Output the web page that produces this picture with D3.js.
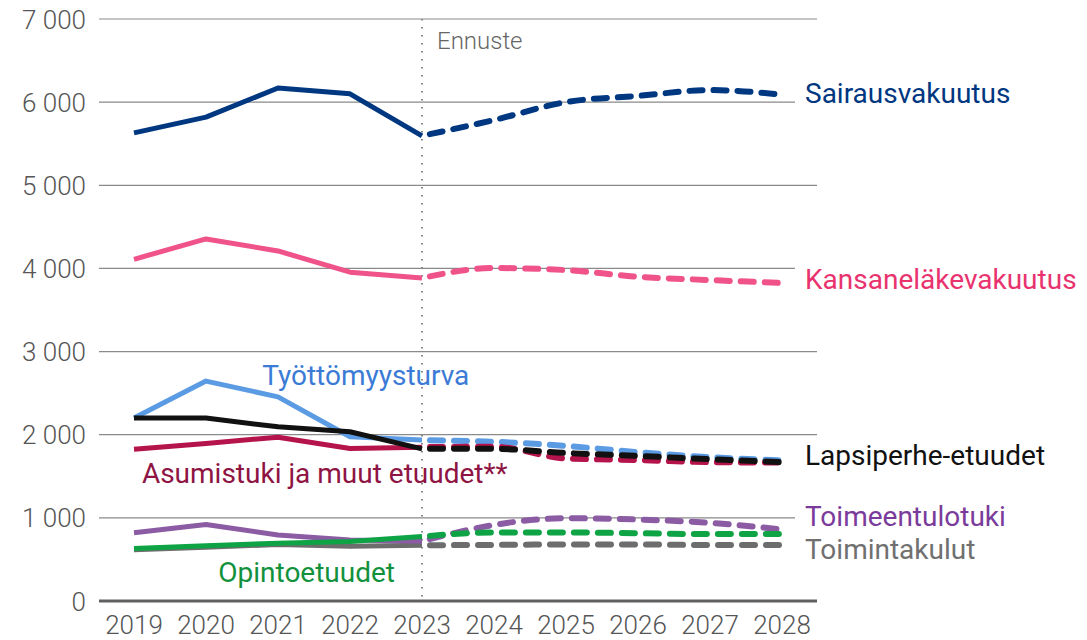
<!DOCTYPE html>
<html>
<head>
<meta charset="utf-8">
<script src="https://cdn.jsdelivr.net/npm/d3@7"></script>
<style>
  body { margin: 0; background: #fff; }
  svg { font-family: Roboto, "Noto Sans", sans-serif; }
</style>
</head>
<body>
<div id="chart"></div>
<script>
const width = 1087,
      height = 640,
      margin = ({ top: 19, right: 271, bottom: 39, left: 99 });

// data (millions of euros)
const years = [2019, 2020, 2021, 2022, 2023, 2024, 2025, 2026, 2027, 2028];
const histYears = [2019, 2020, 2021, 2022, 2023];
const foreYears = [2023, 2024, 2025, 2026, 2027, 2028];
const yTicks = [0, 1000, 2000, 3000, 4000, 5000, 6000, 7000];

const sairausHist = [5630, 5820, 6170, 6100, 5595];
const sairausFore = [5595, 5785, 6000, 6075, 6145, 6090];
const kansanHist = [4110, 4355, 4210, 3955, 3885];
const kansanFore = [3885, 4005, 3980, 3900, 3860, 3825];
const tyottHist = [2200, 2645, 2455, 1975, 1935];
const tyottFore = [1935, 1915, 1865, 1790, 1730, 1690];
const lapsiHist = [2200, 2200, 2095, 2035, 1830];
const lapsiFore = [1830, 1830, 1780, 1745, 1705, 1670];
const asumHist = [1825, 1895, 1970, 1835, 1850];
const asumFore = [1850, 1855, 1715, 1695, 1670, 1665];
const toimeenHist = [820, 920, 795, 735, 720];
const toimeenFore = [720, 915, 995, 980, 940, 860];
const opintoHist = [630, 665, 695, 715, 775];
const opintoFore = [775, 825, 825, 815, 805, 805];
const toimintaHist = [615, 645, 680, 660, 670];
const toimintaFore = [670, 675, 680, 680, 673, 673];

const series = [
  { name: "Työttömyysturva", hist: tyottHist, fore: tyottFore, color: "#5b9be3" },
  { name: "Asumistuki ja muut etuudet**", hist: asumHist, fore: asumFore, color: "#b5134b" },
  { name: "Lapsiperhe-etuudet", hist: lapsiHist, fore: lapsiFore, color: "#111111" },
  { name: "Toimintakulut", hist: toimintaHist, fore: toimintaFore, color: "#6d6d6d" },
  { name: "Toimeentulotuki", hist: toimeenHist, fore: toimeenFore, color: "#8b5ca3" },
  { name: "Opintoetuudet", hist: opintoHist, fore: opintoFore, color: "#0ea345" },
  { name: "Kansaneläkevakuutus", hist: kansanHist, fore: kansanFore, color: "#f0528a" },
  { name: "Sairausvakuutus", hist: sairausHist, fore: sairausFore, color: "#003781" }
];

// direct labels: x is a year (or the right margin), v is the baseline value
const labels = [
  { text: "Sairausvakuutus", x: "right", v: 5990, color: "#003781", bg: true },
  { text: "Kansaneläkevakuutus", x: "right", v: 3753, color: "#e8336f", bg: true },
  { text: "Lapsiperhe-etuudet", x: "right", v: 1636, color: "#111111", bg: false },
  { text: "Toimeentulotuki", x: "right", v: 900, color: "#7a3b9b", bg: true },
  { text: "Toimintakulut", x: "right", v: 505, color: "#707070", bg: false },
  { text: "Työttömyysturva", x: 2020.78, v: 2598, color: "#3b7bd6", bg: false },
  { text: "Asumistuki ja muut etuudet**", x: 2019.11, v: 1419, color: "#8e1443", bg: false },
  { text: "Opintoetuudet", x: 2020.17, v: 232, color: "#12913c", bg: false }
];

const svg = d3.select("#chart")
  .append("svg")
  .attr("width", width)
  .attr("height", height);

let x = d3.scaleLinear()
  .domain([2019, 2028])
  .range([134, 782]);

let y = d3.scaleLinear()
  .domain([0, 7000])
  .range([height - margin.bottom, margin.top]);

const plotRight = width - margin.right + 1;

// gridlines
svg.append("g")
  .selectAll("line")
  .data(yTicks.filter(d => d > 0))
  .join("line")
  .attr("x1", margin.left)
  .attr("x2", plotRight)
  .attr("y1", d => y(d))
  .attr("y2", d => y(d))
  .attr("stroke", "#8a8a8a")
  .attr("stroke-width", 1.2);

// y tick labels
svg.append("g")
  .selectAll("text")
  .data(yTicks)
  .join("text")
  .attr("x", 86)
  .attr("y", d => y(d) + 9.5)
  .attr("text-anchor", "end")
  .attr("fill", "#555")
  .style("font-size", "26px")
  .style("font-weight", 300)
  .text(d => d3.format(",")(d).replace(/,/g, " "));

// x tick labels
svg.append("g")
  .selectAll("text")
  .data(years)
  .join("text")
  .attr("x", d => x(d))
  .attr("y", 634)
  .attr("text-anchor", "middle")
  .attr("fill", "#555")
  .style("font-size", "26px")
  .style("font-weight", 300)
  .text(d => d);

// forecast divider
svg.append("line")
  .attr("x1", x(2023))
  .attr("x2", x(2023))
  .attr("y1", y(7000))
  .attr("y2", y(0))
  .attr("stroke", "#888")
  .attr("stroke-width", 2)
  .attr("stroke-dasharray", "1.5,6.5");

svg.append("text")
  .attr("x", x(2023) + 15)
  .attr("y", 49)
  .attr("fill", "#666")
  .style("font-size", "24px")
  .style("font-weight", 300)
  .text("Ennuste");

// lines
const histLine = d3.line()
  .x((d, i) => x(histYears[i]))
  .y(d => y(d));

const foreLine = d3.line()
  .x((d, i) => x(foreYears[i]))
  .y(d => y(d))
  .curve(d3.curveMonotoneX);

const lines = svg.append("g");

series.forEach(s => {
  lines.append("path")
    .attr("d", histLine(s.hist))
    .attr("fill", "none")
    .attr("stroke", s.color)
    .attr("stroke-width", 5)
    .attr("stroke-linejoin", "round");
  lines.append("path")
    .attr("d", foreLine(s.fore))
    .attr("fill", "none")
    .attr("stroke", s.color)
    .attr("stroke-width", 6)
    .attr("stroke-linecap", "round")
    .attr("stroke-dasharray", "13,11")
    .attr("stroke-dashoffset", -8);
});

// zero baseline
svg.append("line")
  .attr("x1", margin.left)
  .attr("x2", plotRight)
  .attr("y1", y(0))
  .attr("y2", y(0))
  .attr("stroke", "#606060")
  .attr("stroke-width", 3);

// series labels
const lab = svg.append("g");
labels.forEach(l => {
  const lx = l.x === "right" ? 805 : x(l.x);
  if (l.bg) {
    lab.append("rect")
      .attr("x", lx - 10)
      .attr("y", y(l.v) - 22)
      .attr("width", 30)
      .attr("height", 28)
      .attr("fill", "#fff");
  }
  lab.append("text")
    .attr("x", lx)
    .attr("y", y(l.v))
    .attr("fill", l.color)
    .style("font-size", "28px")
    .text(l.text);
});
</script>
</body>
</html>
